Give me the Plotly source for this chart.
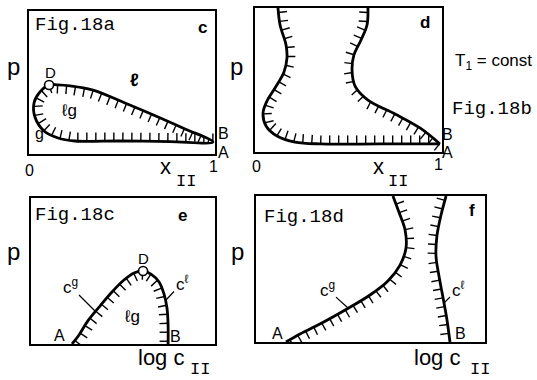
import numpy as np
import plotly.graph_objects as go

FIG_W, FIG_H = 537, 380

SANS = "Liberation Sans, Arial, sans-serif"
MONO = "Liberation Mono, Courier New, monospace"

# Panel frames in pixels: left, top, right, bottom
FRAMES = {
    "a": (29, 11, 215, 154),
    "b": (255, 8, 442, 152),
    "c": (31, 198, 215, 344),
    "d": (256, 196, 485, 342),
}

# ---- Fig.18a : closed two-phase loop in the (x_II, p) plane ----
a_loop_x = [0.989, 0.839, 0.694, 0.516, 0.339, 0.220, 0.156, 0.108, 0.059,
            0.027, 0.032, 0.081, 0.156, 0.247, 0.489, 0.758, 0.989]
a_loop_p = [0.084, 0.175, 0.259, 0.357, 0.448, 0.476, 0.483, 0.483, 0.434,
            0.357, 0.259, 0.161, 0.112, 0.091, 0.091, 0.087, 0.084]
a_crit_x = [0.108]
a_crit_p = [0.483]

# ---- Fig.18b : open two-phase band in the (x_II, p) plane ----
b_left_x = [0.123, 0.134, 0.166, 0.171, 0.155, 0.107, 0.064, 0.043, 0.059,
            0.118, 0.214, 0.348, 0.668, 0.989]
b_left_p = [1.000, 0.882, 0.743, 0.653, 0.556, 0.444, 0.354, 0.271, 0.181,
            0.111, 0.069, 0.056, 0.056, 0.056]
b_right_x = [0.604, 0.599, 0.567, 0.529, 0.519, 0.535, 0.604, 0.749, 0.882, 0.989]
b_right_p = [1.000, 0.882, 0.778, 0.674, 0.569, 0.458, 0.361, 0.264, 0.167, 0.056]

# ---- Fig.18c : c^g / c^l dome in the (log c_II, p) plane ----
c_curve_x = [0.223, 0.261, 0.310, 0.375, 0.440, 0.505, 0.560, 0.609, 0.652,
             0.696, 0.723, 0.739, 0.745, 0.745]
c_curve_p = [0.000, 0.062, 0.160, 0.260, 0.356, 0.438, 0.486, 0.500, 0.479,
             0.425, 0.342, 0.247, 0.130, 0.000]
c_crit_x = [0.609]
c_crit_p = [0.500]

# ---- Fig.18d : c^g and c^l branches in the (log c_II, p) plane ----
d_gas_x = [0.131, 0.192, 0.279, 0.397, 0.498, 0.576, 0.629, 0.655, 0.651,
           0.624, 0.598]
d_gas_p = [0.000, 0.055, 0.123, 0.226, 0.322, 0.418, 0.527, 0.644, 0.767,
           0.890, 1.000]
d_liq_x = [0.830, 0.808, 0.790, 0.786, 0.799, 0.817, 0.834, 0.847]
d_liq_p = [1.000, 0.870, 0.726, 0.589, 0.452, 0.301, 0.151, 0.000]


def frame_size(key):
    l, t, r, b = FRAMES[key]
    return r - l, b - t


def hatches(key, curves, step=9.0, length=8.5):
    """Short ticks perpendicular to each curve, on the chosen side,
    cut off where they would cross another curve of the panel."""
    W, H = frame_size(key)
    polys = [np.column_stack([np.asarray(x) * W, np.asarray(y) * H])
             for x, y, _ in curves]
    sa = np.vstack([p[:-1] for p in polys])
    sb = np.vstack([p[1:] for p in polys])
    hx, hy = [], []
    for P, (_, _, side) in zip(polys, curves):
        seg = np.diff(P, axis=0)
        cum = np.concatenate([[0.0], np.cumsum(np.hypot(seg[:, 0], seg[:, 1]))])

        def at(s):
            s = min(max(s, 0.0), cum[-1])
            return np.array([np.interp(s, cum, P[:, 0]), np.interp(s, cum, P[:, 1])])

        for s in np.arange(step / 2, cum[-1], step):
            p = at(s)
            d = at(s + 3) - at(s - 3)
            d /= np.hypot(*d)
            n = side * np.array([-d[1], d[0]])
            q = p + length * n
            r = q - p
            sv = sb - sa
            den = r[0] * sv[:, 1] - r[1] * sv[:, 0]
            qp = sa - p
            with np.errstate(divide="ignore", invalid="ignore"):
                t = (qp[:, 0] * sv[:, 1] - qp[:, 1] * sv[:, 0]) / den
                u = (qp[:, 0] * r[1] - qp[:, 1] * r[0]) / den
            ok = (np.abs(den) > 1e-9) & (t > 0.15) & (t <= 1) & (u >= 0) & (u <= 1)
            f = t[ok].min() if ok.any() else 1.0
            q = p + f * r
            hx += [p[0] / W, q[0] / W, None]
            hy += [p[1] / H, q[1] / H, None]
    return hx, hy


AX = {"a": ("x", "y"), "b": ("x2", "y2"), "c": ("x3", "y3"), "d": ("x4", "y4")}

fig = go.Figure()


def add_curve(key, x, y):
    xa, ya = AX[key]
    fig.add_trace(go.Scatter(x=x, y=y, xaxis=xa, yaxis=ya, mode="lines",
                             line=dict(color="black", width=2.8, shape="spline",
                                       smoothing=1.0),
                             hoverinfo="skip", showlegend=False))


def add_hatches(key, curves):
    xa, ya = AX[key]
    hx, hy = hatches(key, curves)
    fig.add_trace(go.Scatter(x=hx, y=hy, xaxis=xa, yaxis=ya, mode="lines",
                             line=dict(color="black", width=1.4),
                             hoverinfo="skip", showlegend=False))


def add_crit(key, x, y):
    xa, ya = AX[key]
    fig.add_trace(go.Scatter(x=x, y=y, xaxis=xa, yaxis=ya, mode="markers",
                             marker=dict(symbol="circle", size=9, color="white",
                                         line=dict(color="black", width=1.6)),
                             cliponaxis=False, hoverinfo="skip", showlegend=False))


# Fig.18a
add_hatches("a", [(a_loop_x, a_loop_p, 1)])
add_curve("a", a_loop_x, a_loop_p)
add_crit("a", a_crit_x, a_crit_p)

# Fig.18b
add_hatches("b", [(b_left_x, b_left_p, 1), (b_right_x, b_right_p, -1)])
add_curve("b", b_left_x, b_left_p)
add_curve("b", b_right_x, b_right_p)

# Fig.18c
add_hatches("c", [(c_curve_x, c_curve_p, -1)])
add_curve("c", c_curve_x, c_curve_p)
add_crit("c", c_crit_x, c_crit_p)

# Fig.18d
add_hatches("d", [(d_gas_x, d_gas_p, -1), (d_liq_x, d_liq_p, -1)])
add_curve("d", d_gas_x, d_gas_p)
add_curve("d", d_liq_x, d_liq_p)

axis_style = dict(range=[0, 1], showline=True, mirror=True, linecolor="black",
                  linewidth=2, showticklabels=False, ticks="", showgrid=False,
                  zeroline=False, fixedrange=True)
layout_axes = {}
for k, key in enumerate(FRAMES, start=1):
    l, t, r, b = FRAMES[key]
    sfx = "" if k == 1 else str(k)
    layout_axes[f"xaxis{sfx}"] = dict(axis_style, domain=[l / FIG_W, r / FIG_W],
                                      anchor=f"y{sfx}")
    layout_axes[f"yaxis{sfx}"] = dict(axis_style, domain=[1 - b / FIG_H, 1 - t / FIG_H],
                                      anchor=f"x{sfx}")


def px(x, y):
    return x / FIG_W, 1 - y / FIG_H


annotations = []


def label(text, x, y, size=16, family=SANS, xanchor="center", yanchor="middle"):
    xp, yp = px(x, y)
    annotations.append(dict(text=text, x=xp, y=yp, xref="paper", yref="paper",
                            showarrow=False, xanchor=xanchor, yanchor=yanchor,
                            font=dict(family=family, size=size, color="black")))


def leader(text, x, y, tx, ty, size=17):
    xp, yp = px(x, y)
    annotations.append(dict(text=text, x=xp, y=yp, xref="paper", yref="paper",
                            showarrow=True, arrowhead=0, arrowwidth=1.2,
                            arrowcolor="black", ax=tx - x, ay=ty - y, standoff=0,
                            font=dict(family=SANS, size=size, color="black")))


# Fig.18a labels
label("Fig.18a", 33, 25, 19, MONO, xanchor="left")
label("<b>c</b>", 202, 27, 17)
label("p", 13, 66, 24)
label("D", 50, 72, 15)
label("<b>ℓ</b>", 134, 80, 18)
label("ℓg", 69, 110, 17)
label("g", 39, 133, 16)
label("B", 223, 133, 16)
label("A", 223, 152, 16)
label("0", 29, 170, 16)
label("1", 213, 166, 16)
label("x", 165, 167, 22)
label("II", 186, 181, 17, MONO)

# Fig.18b labels
label("<b>d</b>", 425, 23, 17)
label("p", 236, 66, 24)
label("B", 447, 134, 16)
label("A", 447, 152, 16)
label("0", 256, 167, 16)
label("1", 438, 164, 16)
label("x", 378, 167, 22)
label("II", 398, 181, 17, MONO)
label("T<sub>1</sub> = const", 453, 62, 17, xanchor="left")
label("Fig.18b", 450, 109, 19, MONO, xanchor="left")

# Fig.18c labels
label("Fig.18c", 33, 215, 19, MONO, xanchor="left")
label("<b>e</b>", 182, 215, 17)
label("p", 13, 251, 24)
label("D", 143, 258, 15)
leader("c<sup>g</sup>", 96, 312, 70, 286)
label("ℓg", 132, 316, 17)
leader("c<sup>ℓ</sup>", 166, 300, 182, 283)
label("A", 60, 335, 16)
label("B", 175, 336, 16)
label("log c", 161, 357, 22)
label("II", 200, 369, 17, MONO)

# Fig.18d labels
label("Fig.18d", 262, 217, 19, MONO, xanchor="left")
label("<b>f</b>", 472, 211, 17)
label("p", 237, 251, 24)
leader("c<sup>g</sup>", 348, 308, 327, 289)
leader("c<sup>ℓ</sup>", 444, 303, 458, 289)
label("A", 277, 333, 16)
label("B", 460, 333, 16)
label("log c", 437, 357, 22)
label("II", 480, 369, 17, MONO)

fig.update_layout(width=FIG_W, height=FIG_H, margin=dict(l=0, r=0, t=0, b=0),
                  paper_bgcolor="white", plot_bgcolor="white",
                  annotations=annotations, **layout_axes)

fig.write_html("out.html", config={"displayModeBar": False})
